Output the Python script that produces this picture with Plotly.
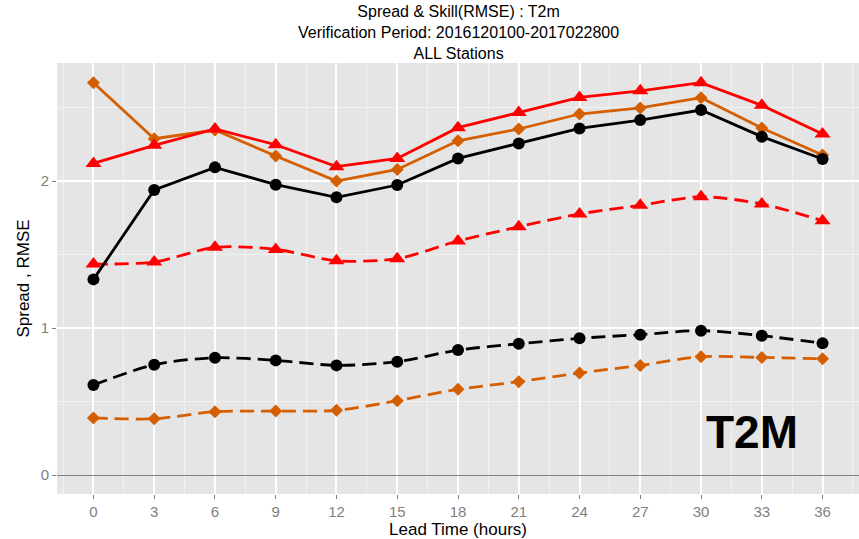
import plotly.graph_objects as go

# Lead times (hours)
lead_hours = [0, 3, 6, 9, 12, 15, 18, 21, 24, 27, 30, 33, 36]

# Solid lines (RMSE)
rmse_black = [1.331, 1.939, 2.093, 1.975, 1.889, 1.973, 2.154, 2.256, 2.358, 2.415, 2.483, 2.302, 2.150]
rmse_orange = [2.669, 2.288, 2.347, 2.170, 2.000, 2.079, 2.274, 2.354, 2.456, 2.497, 2.567, 2.361, 2.177]
rmse_red = [2.120, 2.243, 2.354, 2.247, 2.098, 2.154, 2.363, 2.467, 2.569, 2.614, 2.669, 2.515, 2.320]

# Dashed lines (Spread)
spread_red = [1.435, 1.449, 1.549, 1.535, 1.458, 1.472, 1.592, 1.689, 1.776, 1.835, 1.893, 1.844, 1.730]
spread_black = [0.612, 0.751, 0.798, 0.780, 0.746, 0.771, 0.850, 0.893, 0.930, 0.955, 0.982, 0.948, 0.896]
spread_orange = [0.388, 0.383, 0.431, 0.435, 0.440, 0.506, 0.583, 0.635, 0.694, 0.746, 0.805, 0.800, 0.791]

x_ticks = list(range(0, 37, 3))
y_ticks = [0, 1, 2]

title_lines = ["Spread &amp; Skill(RMSE) : T2m",
               "Verification Period: 2016120100-2017022800",
               "ALL Stations"]

BLACK = "#000000"
ORANGE = "#D55E00"
RED = "#FF0000"
FONT = "Liberation Sans, Arial, sans-serif"

plot_top, plot_bottom = 63, 494

fig = go.Figure()


def add_series(y, color, symbol, msize, dashed):
    fig.add_trace(go.Scatter(
        x=lead_hours, y=y, mode="lines+markers",
        line=dict(color=color, width=2.8,
                  dash="14px,7px" if dashed else "solid",
                  shape="spline" if dashed else "linear",
                  smoothing=0.8),
        marker=dict(color=color, symbol=symbol, size=msize,
                    line=dict(width=0)),
        showlegend=False, hoverinfo="x+y",
    ))


add_series(spread_orange, ORANGE, "diamond", 10, True)
add_series(spread_black, BLACK, "circle", 12, True)
add_series(spread_red, RED, "triangle-up", 14, True)
add_series(rmse_orange, ORANGE, "diamond", 10, False)
add_series(rmse_red, RED, "triangle-up", 14, False)
add_series(rmse_black, BLACK, "circle", 12, False)

annotations = [
    # three-line title centred over the plotting panel
    dict(text="<br>".join(title_lines), x=0.5, xref="paper",
         y=(plot_bottom - 33) / (plot_bottom - plot_top), yref="paper",
         showarrow=False, align="center",
         font=dict(family=FONT, size=16, color="black"),
         xanchor="center", yanchor="middle"),
    dict(text="<b>T2M</b>", x=32.5, y=0.29, xref="x", yref="y",
         showarrow=False, font=dict(family=FONT, size=46, color="black"),
         xanchor="center", yanchor="middle"),
]

fig.update_layout(
    width=859, height=539,
    margin=dict(l=57, r=0, t=plot_top, b=539 - plot_bottom),
    paper_bgcolor="white", plot_bgcolor="#E5E5E5",
    annotations=annotations,
    showlegend=False,
    font=dict(family=FONT),
)

fig.update_xaxes(
    range=[-1.8, 37.8], tickvals=x_ticks, ticktext=[str(v) for v in x_ticks],
    showgrid=True, gridcolor="white", gridwidth=1.6,
    minor=dict(tick0=1.5, dtick=3, showgrid=True, gridcolor="#F2F2F2",
               gridwidth=0.8),
    zeroline=False, showline=False,
    ticks="outside", ticklen=4, tickcolor="#7F7F7F", tickwidth=1,
    tickfont=dict(family=FONT, size=15, color="#7F7F7F"),
    title=dict(text="Lead Time (hours)", standoff=6,
               font=dict(family=FONT, size=17, color="black")),
)
fig.update_yaxes(
    range=[-0.129, 2.803], tickvals=y_ticks, ticktext=[str(v) for v in y_ticks],
    showgrid=True, gridcolor="white", gridwidth=1.6,
    minor=dict(tick0=0.5, dtick=1, showgrid=True, gridcolor="#F2F2F2",
               gridwidth=0.8),
    zeroline=True, zerolinecolor="#7F7F7F", zerolinewidth=1.2,
    showline=False,
    ticks="outside", ticklen=4, tickcolor="#7F7F7F", tickwidth=1,
    tickfont=dict(family=FONT, size=15, color="#7F7F7F"),
    title=dict(text="Spread , RMSE", standoff=6,
               font=dict(family=FONT, size=17, color="black")),
)

fig.write_html("out.html")
